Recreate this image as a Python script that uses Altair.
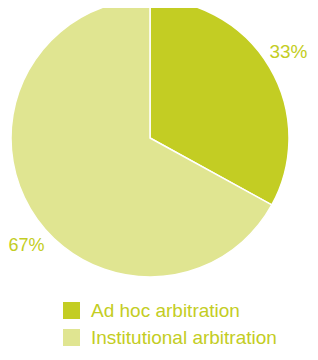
import altair as alt
import pandas as pd

categories = ["Ad hoc arbitration", "Institutional arbitration"]
values = [33, 67]
labels = ["33%", "67%"]
colors = ["#c3cd23", "#e0e591"]

df = pd.DataFrame({"category": categories, "value": values, "label": labels, "order": [0, 1]})

CX, CY, R = 142, 130, 139
TXT = "#c3cd23"
FONT = "Liberation Sans"

base = alt.Chart(df).encode(
    theta=alt.Theta("value:Q", stack=True),
    order=alt.Order("order:Q"),
    x=alt.value(CX), y=alt.value(CY),
)

pie = base.mark_arc(outerRadius=R, stroke="white", strokeWidth=1.5).encode(
    color=alt.Color(
        "category:N",
        scale=alt.Scale(domain=categories, range=colors),
        sort=categories,
        legend=alt.Legend(
            title=None, orient="none", legendX=54, legendY=293,
            symbolType="square", symbolSize=289, symbolStrokeWidth=0,
            labelFontSize=19, labelColor=TXT, labelFont=FONT,
            labelOffset=10, rowPadding=7, padding=0,
            symbolOpacity=1, labelLimit=300,
        ),
    ),
)

lab1 = base.mark_text(radius=169, fontSize=19, font=FONT, color=TXT, align="center", baseline="middle", dx=-7).encode(
    text=alt.condition(alt.datum.order == 0, "label:N", alt.value("")),
)

lab2 = base.mark_text(radius=169, fontSize=18, font=FONT, color=TXT, align="center", baseline="middle", dx=22, dy=22).encode(
    text=alt.condition(alt.datum.order == 1, "label:N", alt.value("")),
)

chart = alt.layer(pie, lab1, lab2).properties(
    width=302, height=338, autosize=alt.AutoSizeParams(type="none"), padding=0,
).configure_view(stroke=None)

chart.save("out.html", embed_options={"renderer": "svg", "actions": False})
